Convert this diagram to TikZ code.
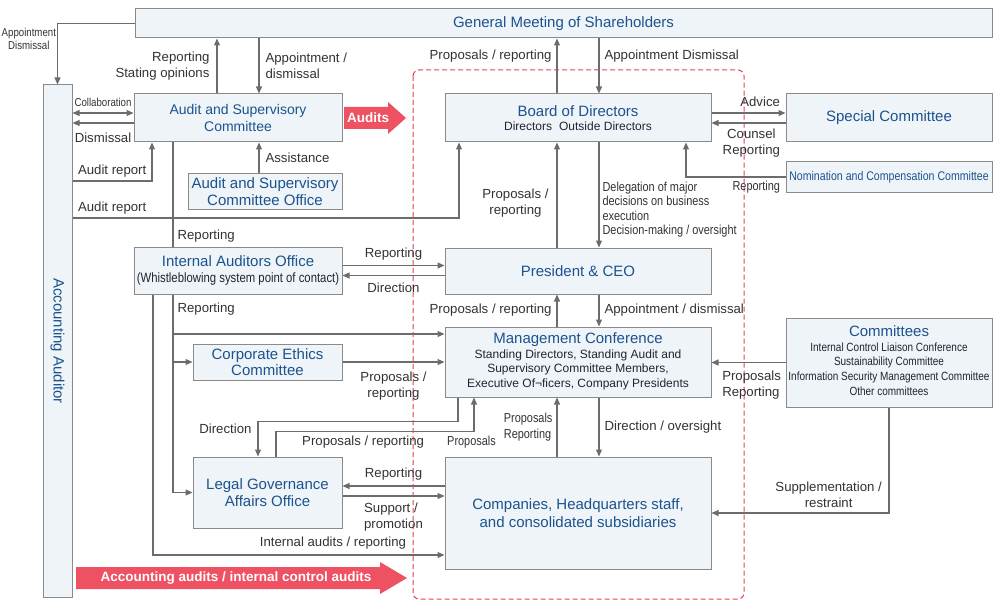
\documentclass[tikz,border=0pt]{standalone}
\usepackage{fontspec}
\setmainfont{Liberation Sans}
\newfontfamily\narrowfont{Liberation Sans}[FakeStretch=0.84]
\usetikzlibrary{arrows.meta}

\definecolor{headblue}{RGB}{27,83,143}
\definecolor{textgray}{RGB}{50,50,50}
\definecolor{subdark}{RGB}{35,35,50}
\definecolor{boxfill}{RGB}{239,244,248}
\definecolor{boxline}{RGB}{138,138,138}
\definecolor{linegray}{RGB}{108,108,108}
\definecolor{auditred}{RGB}{238,82,98}
\definecolor{dashred}{RGB}{232,62,82}

\newcommand{\headsize}{\fontsize{15}{17}\selectfont}
\newcommand{\subsize}{\fontsize{12}{14.5}\selectfont}
\newcommand{\lblsize}{\fontsize{13.2}{16}\selectfont}
\newcommand{\narrowsize}{\narrowfont\fontsize{13}{14.5}\selectfont}
\newcommand{\listsize}{\narrowfont\fontsize{11.9}{14.7}\selectfont}
\newcommand{\tinysize}{\narrowfont\fontsize{11.5}{13}\selectfont}
\newcommand{\bannersize}{\bfseries\fontsize{13.5}{16}\selectfont}

\begin{document}
\begin{tikzpicture}
	[x=1pt, y=-1pt,
	box_style/.style={draw=boxline, fill=boxfill, line width=1pt, inner sep=0pt, align=center, text=headblue, font=\headsize},
	edge_style/.style={draw=linegray, line width=1.1pt, -{Triangle[length=7pt, width=6pt]}},
	both_style/.style={edge_style, {Triangle[length=7pt, width=6pt]}-{Triangle[length=7pt, width=6pt]}},
	line_style/.style={draw=linegray, line width=1.1pt},
	label_style/.style={text=textgray, font=\lblsize, inner sep=3pt},
	banner_style/.style={fill=auditred},
	dash_style/.style={draw=dashred, line width=1pt, dash pattern=on 5pt off 3pt, rounded corners=6pt}]
	\useasboundingbox (0,0) rectangle (1000,604);

	\draw[dash_style] (413,70) rectangle (744,599);

	\node[box_style, minimum width=857pt, minimum height=29pt] (gms) at (563.5,23.5) {General Meeting of Shareholders};
	\node[box_style, minimum width=29pt, minimum height=512pt,
		label={[rotate=-90, text=headblue, font=\headsize]center:Accounting Auditor}] (acc) at (57.5,341) {};
	\node[box_style, minimum width=208pt, minimum height=48pt, font=\fontsize{14}{16.5}\selectfont] (asc) at (238,118) {Audit and Supervisory\\Committee};
	\node[box_style, minimum width=154pt, minimum height=35pt] (asco) at (265,191.5) {Audit and Supervisory\\[-0.5pt]Committee Office};
	\node[box_style, minimum width=266pt, minimum height=48pt] (bod) at (578,118) {Board of Directors\\[-3pt]{\subsize\color{subdark}Directors\hspace{7pt}Outside Directors}};
	\node[box_style, minimum width=206pt, minimum height=48pt] (spc) at (889,118) {Special Committee};
	\node[box_style, minimum width=206pt, minimum height=30pt, font=\narrowfont\fontsize{12.6}{15}\selectfont] (ncc) at (889,177) {Nomination and Compensation Committee};
	\node[box_style, minimum width=208pt, minimum height=47pt] (iao) at (238,270.5) {Internal Auditors Office\\[-1pt]{\narrowfont\fontsize{13.5}{15}\selectfont\color{subdark}(Whistleblowing system point of contact)}};
	\node[box_style, minimum width=266pt, minimum height=46pt] (ceo) at (578,271) {President \& CEO};
	\node[box_style, minimum width=266pt, minimum height=70pt] (mc) at (578,362) {Management Conference\\[-2pt]{\subsize\color{subdark}\begin{tabular}[t]{@{}c@{}}Standing Directors, Standing Audit and\\Supervisory Committee Members,\\Executive Of¬ficers, Company Presidents\end{tabular}}};
	\node[box_style, minimum width=206pt, minimum height=89pt] (com) at (889,362.5) {Committees\\[-2pt]{\listsize\color{subdark}\begin{tabular}[t]{@{}c@{}}Internal Control Liaison Conference\\Sustainability Committee\\Information Security Management Committee\\Other committees\end{tabular}}};
	\node[box_style, minimum width=149pt, minimum height=36pt] (cec) at (267.5,362) {Corporate Ethics\\[-0.5pt]Committee};
	\node[box_style, minimum width=149pt, minimum height=71pt] (lgo) at (267.5,492.5) {Legal Governance\\[-0.5pt]Affairs Office};
	\node[box_style, minimum width=266pt, minimum height=112pt] (cmp) at (578,513) {Companies, Headquarters staff,\\[1pt]and consolidated subsidiaries};

	\fill[banner_style] (344,107) -- (388,107) -- (388,102) -- (406,118) -- (388,134) -- (388,129) -- (344,129) -- cycle;
	\node[text=white, font=\bannersize] (audits) at (368,118) {Audits};
	\fill[banner_style] (76,567) -- (380,567) -- (380,562) -- (407,578) -- (380,594) -- (380,589) -- (76,589) -- cycle;
	\node[text=white, font=\bannersize] (accaudits) at (236,578) {Accounting audits / internal control audits};

	\draw[edge_style] (gms.west) -| (acc.north) node[pos=0.63, label_style, anchor=east, inner sep=1pt, font=\tinysize, align=center] {Appointment\\Dismissal};
	\draw[edge_style] ([xshift=-21pt]asc.north) -- ([xshift=-21pt]asc.north |- gms.south) node[midway, label_style, align=right, left=4pt] {Reporting\\Stating opinions};
	\draw[edge_style] ([xshift=21pt]asc.north |- gms.south) -- ([xshift=21pt]asc.north) node[midway, label_style, align=left, right=3pt] {Appointment /\\dismissal};
	\draw[both_style] ([yshift=5pt]asc.west) -- ([yshift=5pt]asc.west -| acc.east) node[midway, label_style, font=\tinysize, inner sep=1pt, above=5pt] {Collaboration};
	\draw[edge_style] ([yshift=-5pt]asc.west) -- ([yshift=-5pt]asc.west -| acc.east) node[midway, label_style, below=6pt] {Dismissal};
	\draw[edge_style] ([yshift=160pt]acc.east) -| ([xshift=-86pt]asc.south) node[pos=0, label_style, anchor=south west, xshift=2pt] {Audit report};
	\draw[edge_style] ([yshift=123pt]acc.east) -| ([xshift=-119pt]bod.south) node[pos=0, label_style, anchor=south west, xshift=2pt] {Audit report};
	\draw[edge_style] ([xshift=-6pt]asco.north) -- ([xshift=-6pt]asco.north |- asc.south) node[midway, label_style, right=3pt] {Assistance};
	\draw[line_style] ([xshift=-65pt]asc.south) -- ([xshift=-65pt]iao.north) node[pos=0.9, label_style, right=1pt] {Reporting};

	\draw[edge_style] ([yshift=5pt]iao.east) -- ([yshift=5pt]iao.east -| ceo.west) node[midway, label_style, above=2pt] {Reporting};
	\draw[edge_style] ([yshift=-5pt]iao.east -| ceo.west) -- ([yshift=-5pt]iao.east) node[midway, label_style, below=4pt] {Direction};
	\draw[edge_style] ([xshift=-65pt]iao.south) |- ([yshift=28pt]mc.west) node[pos=0.19, label_style, right=1pt] {Reporting};
	\draw[edge_style] ([xshift=-65pt]iao.south) |- (cec.west);
	\draw[edge_style] ([xshift=-65pt]iao.south) |- (lgo.west);
	\draw[edge_style] ([xshift=-85pt]iao.south) |- ([yshift=-42pt]cmp.west) node[pos=0.94, label_style, anchor=south east, yshift=2pt] {Internal audits / reporting};
	\draw[edge_style] (cec.east) -- (cec.east -| mc.west) node[midway, label_style, align=center, below=6pt] {Proposals /\\reporting};

	\draw[edge_style] ([xshift=-21pt]bod.north) -- ([xshift=-21pt]bod.north |- gms.south) node[pos=0.68, label_style, left=2pt] {Proposals / reporting};
	\draw[edge_style] ([xshift=21pt]bod.north |- gms.south) -- ([xshift=21pt]bod.north) node[pos=0.32, label_style, right=2pt] {Appointment Dismissal};
	\draw[edge_style] ([xshift=-21pt]ceo.north) -- ([xshift=-21pt]bod.south) node[pos=0.42, label_style, align=center, left=5pt] {Proposals /\\reporting};
	\draw[edge_style] ([xshift=21pt]bod.south) -- ([xshift=21pt]ceo.north) node[pos=0.64, label_style, font=\narrowsize, align=left, right=0pt] {Delegation of major\\decisions on business\\execution\\Decision-making / oversight};
	\draw[edge_style] ([xshift=-21pt]mc.north) -- ([xshift=-21pt]ceo.south) node[midway, label_style, left=2pt] {Proposals / reporting};
	\draw[edge_style] ([xshift=21pt]ceo.south) -- ([xshift=21pt]mc.north) node[midway, label_style, right=2pt] {Appointment / dismissal};

	\draw[edge_style] ([yshift=5pt]bod.east) -- ([yshift=5pt]bod.east -| spc.west) node[pos=1, label_style, anchor=south east, xshift=-2pt, yshift=3pt] {Advice};
	\draw[edge_style] ([yshift=-5pt]bod.east -| spc.west) -- ([yshift=-5pt]bod.east) node[pos=0, label_style, align=center, anchor=north east, xshift=-2pt, yshift=-2pt] {Counsel\\Reporting};
	\draw[edge_style] (ncc.west) -| ([xshift=108pt]bod.south) node[pos=0, label_style, font=\narrowsize, anchor=north east, xshift=-2pt, yshift=-1pt] {Reporting};
	\draw[edge_style] (com.west) -- (com.west -| mc.east) node[pos=0, label_style, align=left, anchor=north east, xshift=-1pt, yshift=-5pt] {Proposals\\Reporting};
	\draw[edge_style] (com.south) |- (cmp.east) node[pos=0.67, label_style, align=center, anchor=south, yshift=2pt] {Supplementation /\\restraint};

	\draw[edge_style] ([xshift=21pt]mc.south) -- ([xshift=21pt]cmp.north) node[midway, label_style, right=2pt] {Direction / oversight};
	\draw[edge_style] ([xshift=-21pt]cmp.north) -- ([xshift=-21pt]mc.south) node[midway, label_style, font=\narrowsize, align=left, left=1pt] {Proposals\\[2pt]Reporting};
	\draw[edge_style] ([xshift=-120pt]mc.south) -- ++(0pt,-24pt) -| ([xshift=-9.5pt]lgo.north) node[pos=0.5, label_style, anchor=north east, xshift=-3pt, yshift=1pt] {Direction};
	\draw[edge_style] ([xshift=8.5pt]lgo.north) -- ++(0pt,25pt) -| ([xshift=-104pt]mc.south)
		node[pos=0.22, label_style, anchor=north, yshift=-1pt] {Proposals / reporting}
		node[pos=0.5, label_style, font=\narrowsize, anchor=north, xshift=-2.5pt, yshift=-1pt] {Proposals};
	\draw[edge_style] ([yshift=27pt]cmp.west) -- ([yshift=27pt]cmp.west -| lgo.east) node[midway, label_style, above=2pt] {Reporting};
	\draw[edge_style] ([yshift=17pt]cmp.west -| lgo.east) -- ([yshift=17pt]cmp.west) node[midway, label_style, align=left, below=3pt] {Support /\\promotion};
\end{tikzpicture}
\end{document}
